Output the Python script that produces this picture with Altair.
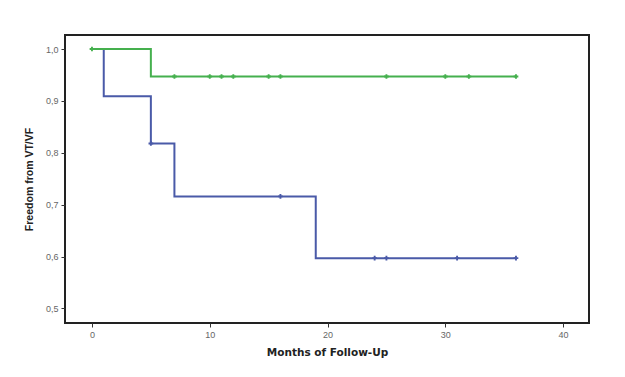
import altair as alt
import pandas as pd

# Kaplan-Meier step points (time in months, survival)
blue_t = [0, 1, 5, 7, 19, 36]
blue_s = [1.0, 0.909, 0.818, 0.716, 0.597, 0.597]
green_t = [0, 5, 36]
green_s = [1.0, 0.947, 0.947]

# censor marks
blue_ct = [5, 16, 24, 25, 31, 36]
blue_cs = [0.818, 0.716, 0.597, 0.597, 0.597, 0.597]
green_ct = [0, 7, 10, 11, 12, 15, 16, 25, 30, 32, 36]
green_cs = [1.0, 0.947, 0.947, 0.947, 0.947, 0.947, 0.947, 0.947, 0.947, 0.947, 0.947]

x_ticks = [0, 10, 20, 30, 40]
y_ticks = [0.5, 0.6, 0.7, 0.8, 0.9, 1.0]

BLUE = "#4a5aa8"
GREEN = "#45b04e"

steps = pd.DataFrame(
    [{"t": t, "s": s, "g": "blue"} for t, s in zip(blue_t, blue_s)]
    + [{"t": t, "s": s, "g": "green"} for t, s in zip(green_t, green_s)]
)
cens = pd.DataFrame(
    [{"t": t, "s": s, "g": "blue"} for t, s in zip(blue_ct, blue_cs)]
    + [{"t": t, "s": s, "g": "green"} for t, s in zip(green_ct, green_cs)]
)

xs = alt.Scale(domain=[-2.29, 42.2], nice=False, zero=False)
ys = alt.Scale(domain=[0.472, 1.027], nice=False, zero=False)

xax = alt.Axis(values=x_ticks, title="Months of Follow-Up", grid=False,
               labelExpr="replace(format(datum.value, 'd'), '.', ',')")
yax = alt.Axis(values=y_ticks, title="Freedom from VT/VF", grid=False,
               labelExpr="replace(format(datum.value, '.1f'), '.', ',')")

def layer_for(group, color):
    line = alt.Chart(steps[steps.g == group]).mark_line(
        interpolate="step-after", color=color, strokeWidth=2
    ).encode(
        x=alt.X("t:Q", scale=xs, axis=xax),
        y=alt.Y("s:Q", scale=ys, axis=yax),
    )
    pts = alt.Chart(cens[cens.g == group]).mark_point(
        shape="cross", filled=True, color=color, size=22, opacity=1
    ).encode(
        x=alt.X("t:Q", scale=xs),
        y=alt.Y("s:Q", scale=ys),
    )
    return [line, pts]

chart = alt.layer(*(layer_for("blue", BLUE) + layer_for("green", GREEN))).properties(
    width=524, height=288,
    autosize=alt.AutoSizeParams(type="none"),
    padding={"left": 65, "top": 35, "right": 36, "bottom": 54},
    background="white",
).configure_view(
    stroke="#222", strokeWidth=2
).configure_axis(
    domain=False,
    tickColor="#333", tickSize=4, tickWidth=1,
    labelColor="#666", labelFontSize=9, labelFont="Liberation Sans",
    titleColor="#222", titleFontWeight="bold",
).configure_axisX(
    titleFont="DejaVu Sans", titleFontSize=10.5, titlePadding=8, labelPadding=3,
).configure_axisY(
    titleFont="Liberation Sans", titleFontSize=10.5, titlePadding=11, labelPadding=3,
)

chart.save("out.html", embed_options={"renderer": "svg", "actions": False})
